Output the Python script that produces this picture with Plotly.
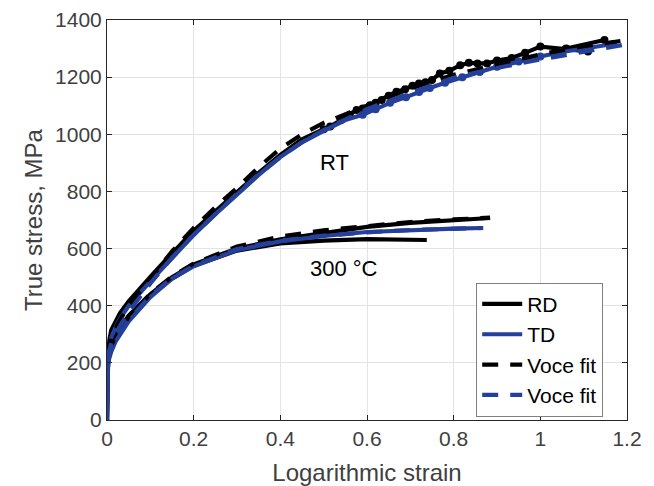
import plotly.graph_objects as go

# ---------------- data ----------------
# Room temperature, RD experiment
rt_rd_x = [0, 0.001, 0.003, 0.006, 0.01, 0.02, 0.03, 0.05, 0.075, 0.1, 0.14, 0.2, 0.25, 0.3, 0.35, 0.4, 0.45,
           0.5, 0.515, 0.54, 0.56, 0.576, 0.59, 0.607, 0.62, 0.634, 0.65, 0.668, 0.688, 0.705, 0.72, 0.735, 0.75,
           0.768, 0.79, 0.815, 0.835, 0.855, 0.877, 0.9, 0.934, 0.965, 1.0, 1.058, 1.11, 1.06, 1.148]
rt_rd_y = [0, 200, 250, 285, 315, 345, 374, 415, 460, 501, 567, 662, 730, 798, 865, 928, 982,
           1018, 1027, 1050, 1068, 1085, 1090, 1102, 1110, 1120, 1135, 1149, 1158, 1170, 1178, 1182, 1190,
           1213, 1222, 1242, 1250, 1248, 1248, 1258, 1267, 1285, 1307, 1298, 1290, 1300, 1330]

# Room temperature, TD experiment
rt_td_x = [0, 0.001, 0.003, 0.006, 0.01, 0.02, 0.03, 0.05, 0.075, 0.1, 0.14, 0.2, 0.25, 0.3, 0.35, 0.4, 0.45,
           0.5, 0.55, 0.59, 0.62, 0.653, 0.69, 0.72, 0.745, 0.78, 0.82, 0.86, 0.9, 0.95, 1.0, 1.05, 1.1, 1.168]
rt_td_y = [0, 190, 235, 265, 290, 325, 355, 400, 445, 485, 550, 648, 720, 790, 858, 920, 972,
           1012, 1050, 1068, 1088, 1110, 1130, 1148, 1162, 1180, 1200, 1218, 1236, 1255, 1272, 1288, 1300, 1316]

# Room temperature, Voce fits
rt_rd_fit_x = [0, 0.01, 0.03, 0.05, 0.1, 0.15, 0.2, 0.25, 0.3, 0.35, 0.4, 0.45, 0.5, 0.6, 0.7, 0.8, 0.9, 1.0, 1.1, 1.2]
rt_rd_fit_y = [230, 292, 350, 400, 495, 590, 672, 745, 812, 885, 950, 1000, 1040, 1100, 1160, 1208, 1245, 1280, 1308, 1330]
rt_td_fit_x = [0, 0.01, 0.03, 0.05, 0.1, 0.15, 0.2, 0.25, 0.3, 0.35, 0.4, 0.45, 0.5, 0.6, 0.7, 0.8, 0.9, 1.0, 1.1, 1.2]
rt_td_fit_y = [215, 270, 330, 378, 478, 568, 648, 722, 792, 860, 920, 972, 1015, 1088, 1145, 1198, 1232, 1262, 1290, 1315]

# 300 °C, RD experiments
t300_rd_x = [0, 0.001, 0.005, 0.01, 0.02, 0.05, 0.1, 0.15, 0.2, 0.3, 0.4, 0.5, 0.6, 0.7, 0.8, 0.884]
t300_rd_y = [0, 190, 240, 265, 300, 365, 440, 500, 545, 600, 632, 655, 676, 690, 700, 707]
t300_rd2_x = [0, 0.001, 0.005, 0.01, 0.02, 0.05, 0.1, 0.15, 0.2, 0.3, 0.4, 0.5, 0.6, 0.738]
t300_rd2_y = [0, 185, 235, 262, 298, 362, 437, 495, 540, 593, 618, 628, 633, 630]

# 300 °C, TD experiment
t300_td_x = [0, 0.001, 0.005, 0.01, 0.02, 0.05, 0.1, 0.15, 0.2, 0.3, 0.4, 0.5, 0.6, 0.7, 0.8, 0.868]
t300_td_y = [0, 170, 215, 240, 275, 345, 430, 495, 538, 595, 625, 644, 658, 665, 670, 672]

# 300 °C, Voce fits
t300_rd_fit_x = [0, 0.01, 0.02, 0.05, 0.1, 0.15, 0.2, 0.3, 0.4, 0.5, 0.6, 0.7, 0.8, 0.884]
t300_rd_fit_y = [230, 265, 295, 360, 442, 502, 548, 607, 642, 664, 680, 693, 702, 708]
t300_td_fit_x = [0, 0.01, 0.02, 0.05, 0.1, 0.15, 0.2, 0.3, 0.4, 0.5, 0.6, 0.7, 0.8, 0.868]
t300_td_fit_y = [210, 250, 280, 350, 435, 497, 540, 598, 628, 645, 657, 665, 669, 672]

x_ticks = [0, 0.2, 0.4, 0.6, 0.8, 1.0, 1.2]
x_tick_text = ["0", "0.2", "0.4", "0.6", "0.8", "1", "1.2"]
y_ticks = [0, 200, 400, 600, 800, 1000, 1200, 1400]

# ---------------- styles ----------------
BLACK = "#000000"
BLUE = "#24409A"
LW = 4.2
DASH = "16px,12px"
FONT = "Liberation Sans, Arial, sans-serif"
MSIZE = 8

fig = go.Figure()


def tail(xs, ys, start):
    pts = [(x, y) for x, y in zip(xs, ys) if x >= start]
    return [p[0] for p in pts], [p[1] for p in pts]


# experiments
fig.add_trace(go.Scatter(x=rt_rd_x, y=rt_rd_y, mode="lines", name="RD",
                         line=dict(color=BLACK, width=LW), legendrank=1))
mx, my = tail(rt_rd_x, rt_rd_y, 0.5)
fig.add_trace(go.Scatter(x=mx, y=my, mode="markers", showlegend=False,
                         marker=dict(color=BLACK, size=MSIZE)))
fig.add_trace(go.Scatter(x=t300_rd_x, y=t300_rd_y, mode="lines", showlegend=False,
                         line=dict(color=BLACK, width=LW)))
fig.add_trace(go.Scatter(x=t300_rd2_x, y=t300_rd2_y, mode="lines", showlegend=False,
                         line=dict(color=BLACK, width=LW)))
fig.add_trace(go.Scatter(x=rt_td_x, y=rt_td_y, mode="lines", name="TD",
                         line=dict(color=BLUE, width=LW), legendrank=2))
mx, my = tail(rt_td_x, rt_td_y, 0.58)
fig.add_trace(go.Scatter(x=mx, y=my, mode="markers", showlegend=False,
                         marker=dict(color=BLUE, size=MSIZE)))
fig.add_trace(go.Scatter(x=t300_td_x, y=t300_td_y, mode="lines", showlegend=False,
                         line=dict(color=BLUE, width=LW)))
# fits
fig.add_trace(go.Scatter(x=rt_rd_fit_x, y=rt_rd_fit_y, mode="lines", name="Voce fit",
                         line=dict(color=BLACK, width=LW, dash=DASH), legendrank=3))
fig.add_trace(go.Scatter(x=t300_rd_fit_x, y=t300_rd_fit_y, mode="lines", showlegend=False,
                         line=dict(color=BLACK, width=LW, dash=DASH)))
fig.add_trace(go.Scatter(x=rt_td_fit_x, y=rt_td_fit_y, mode="lines", name="Voce fit",
                         line=dict(color=BLUE, width=LW, dash=DASH), legendrank=4))
fig.add_trace(go.Scatter(x=t300_td_fit_x, y=t300_td_fit_y, mode="lines", showlegend=False,
                         line=dict(color=BLUE, width=LW, dash=DASH)))

fig.add_annotation(x=0.526, y=900, text="RT", showarrow=False,
                   font=dict(family=FONT, size=22, color="#000000"))
fig.add_annotation(x=0.547, y=532, text="300 °C", showarrow=False,
                   font=dict(family=FONT, size=22, color="#000000"))
# y-axis title placed as a rotated annotation
fig.add_annotation(x=-0.1423, y=0.5, xref="paper", yref="paper", text="True stress, MPa",
                   textangle=-90, showarrow=False, xanchor="center", yanchor="middle",
                   font=dict(family=FONT, size=24, color="#404040"))

axis_common = dict(showline=True, linecolor="#262626", linewidth=1, mirror="ticks",
                   ticks="inside", ticklen=5, tickcolor="#262626",
                   showgrid=True, gridcolor="#E3E3E3", gridwidth=1, zeroline=False,
                   automargin=False,
                   tickfont=dict(family=FONT, size=21, color="#404040"))

fig.update_xaxes(range=[0, 1.2], tickvals=x_ticks, ticktext=x_tick_text,
                 title=dict(text="Logarithmic strain", font=dict(family=FONT, size=24, color="#404040")),
                 **axis_common)
fig.update_yaxes(range=[0, 1400], tickvals=y_ticks, **axis_common)

fig.update_layout(
    width=654, height=486,
    margin=dict(l=107, r=27, t=20, b=66),
    paper_bgcolor="white", plot_bgcolor="white",
    font=dict(family=FONT),
    showlegend=True,
    legend=dict(x=0.71, y=0.343, xanchor="left", yanchor="top",
                bgcolor="white", bordercolor="#808080", borderwidth=1,
                font=dict(family=FONT, size=21, color="#000000"),
                tracegroupgap=0, itemwidth=40),
)

fig.write_html("out.html")
